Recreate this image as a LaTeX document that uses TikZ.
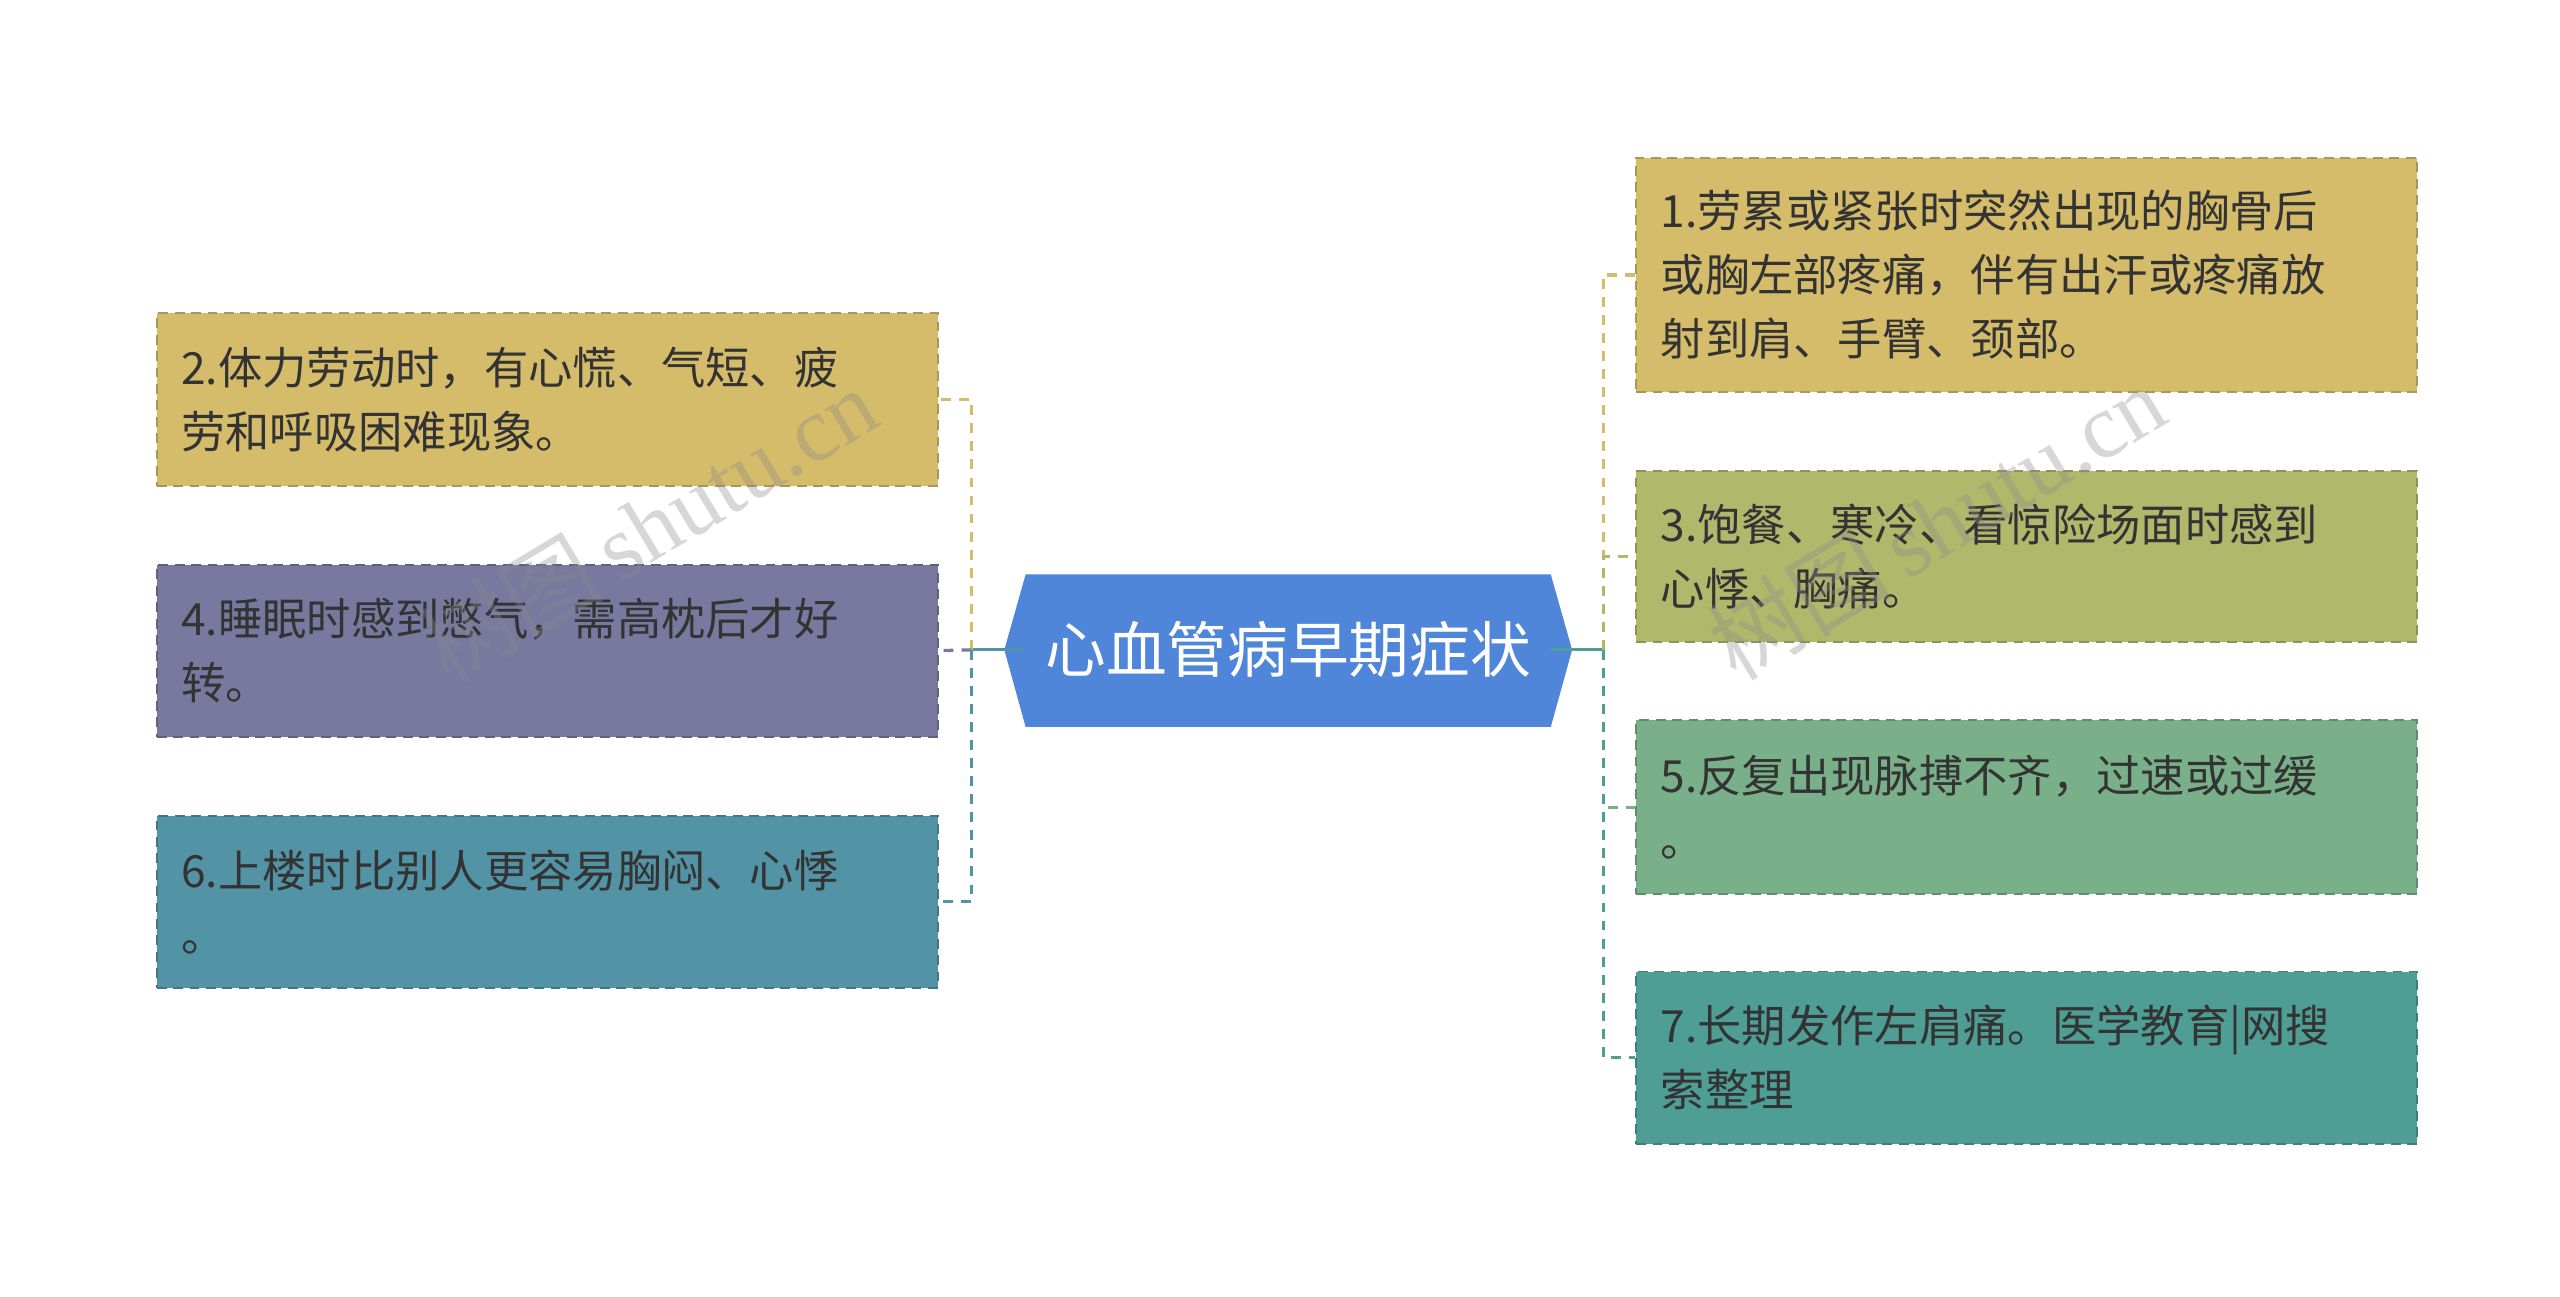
\documentclass[tikz,border=0pt]{standalone}
\usepackage{fontspec}
\setmainfont{Noto Sans CJK SC}
\newfontfamily\wmfont{Liberation Serif}
\begin{document}
\begin{tikzpicture}[x=1pt,y=-1pt,
  box/.style={minimum width=476pt,text width=446pt,align=left,inner sep=0pt,font=\fontsize{27}{39}\selectfont,text=black!80,dashed,dash pattern=on 6pt off 4pt,line width=1.2pt},
  conn/.style={line width=2pt,dash pattern=on 6pt off 5pt},
  wm/.style={rotate=31,text=black!45,opacity=0.35,font=\fontsize{56}{56}\selectfont}]
\useasboundingbox (0,0) rectangle (1560,790);
\definecolor{cy}{HTML}{D4BC6A}\definecolor{co}{HTML}{AFB86B}\definecolor{cp}{HTML}{79789F}
\definecolor{cg}{HTML}{79B08A}\definecolor{ct}{HTML}{5393A6}\definecolor{cq}{HTML}{4F9E95}
\definecolor{ch}{HTML}{4F86D9}
% center
\node[minimum width=320pt,minimum height=93pt,inner sep=0pt] (c) at (785,396) {};
\fill[ch] (612,396) -- (625,350) -- (945,350) -- (958,396) -- (945,443) -- (625,443) -- cycle;
\node[text=white,font=\fontsize{37}{37}\selectfont] (ct) at (785,396) {心血管病早期症状};
% boxes
\node[box,fill=cy,draw=cy!80!black,minimum height=105pt] (b2) at (333.5,243.5) {2.体力劳动时，有心慌、气短、疲\\劳和呼吸困难现象。};
\node[box,fill=cp,draw=cp!80!black,minimum height=105pt] (b4) at (333.5,396.5) {4.睡眠时感到憋气，需高枕后才好\\转。};
\node[box,fill=ct,draw=ct!80!black,minimum height=105pt] (b6) at (333.5,549.5) {6.上楼时比别人更容易胸闷、心悸\\。};
\node[box,fill=cy,draw=cy!80!black,minimum height=143pt] (b1) at (1235,167.5) {1.劳累或紧张时突然出现的胸骨后\\或胸左部疼痛，伴有出汗或疼痛放\\射到肩、手臂、颈部。};
\node[box,fill=co,draw=co!80!black,minimum height=104pt] (b3) at (1235,339) {3.饱餐、寒冷、看惊险场面时感到\\心悸、胸痛。};
\node[box,fill=cg,draw=cg!80!black,minimum height=106pt] (b5) at (1235,492) {5.反复出现脉搏不齐，过速或过缓\\。};
\node[box,fill=cq,draw=cq!80!black,minimum height=105pt] (b7) at (1235,644.5) {7.长期发作左肩痛。医学教育|网搜\\索整理};
% connectors
\coordinate (lj) at (592,396);
\coordinate (rj) at (977,396);
\draw[line width=2pt,ct] (c.west) -- (lj);
\draw[line width=2pt,cq] (c.east) -- (rj);
\draw[conn,cy] (lj) -- (lj |- b2.east) -- (b2.east);
\draw[conn,cp] (lj) -- (b4.east);
\draw[conn,ct] (lj) -- (lj |- b6.east) -- (b6.east);
\draw[conn,cy] (rj) -- (rj |- b1.west) -- (b1.west);
\draw[conn,co] (rj) -- (rj |- b3.west) -- (b3.west);
\draw[conn,cg] (rj) -- (rj |- b5.west) -- (b5.west);
\draw[conn,cq] (rj) -- (rj |- b7.west) -- (b7.west);
% watermarks
\node[wm] (w1) at (395,320) {树图\,{\wmfont shutu.cn}};
\node[wm] (w2) at (1180,318) {树图\,{\wmfont shutu.cn}};
\end{tikzpicture}
\end{document}
